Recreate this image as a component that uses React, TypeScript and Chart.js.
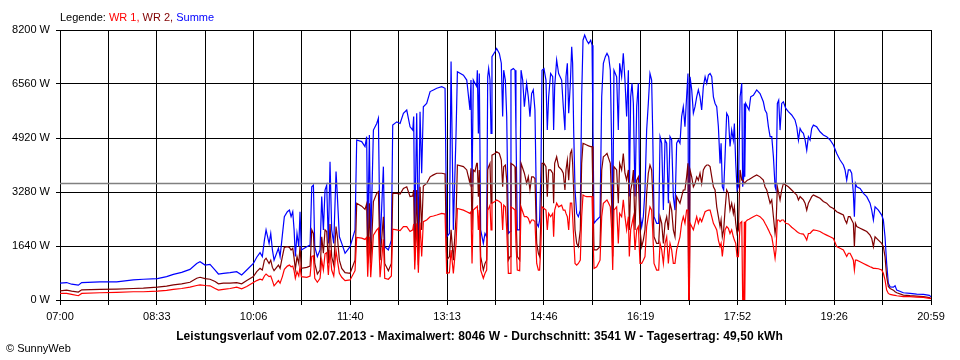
import React, { useEffect, useRef } from "react";
import { Chart, registerables } from "chart.js";

Chart.register(...registerables);

const FONT = "'Liberation Sans', Arial, sans-serif";

// x axis: minutes after 07:00, day ends 20:59
const dayMinutes = 839;
const gridDivisions = 18;
const xTickLabels = ["07:00", "08:33", "10:06", "11:40", "13:13", "14:46", "16:19", "17:52", "19:26", "20:59"];
const yTickValues = [0, 1640, 3280, 4920, 6560, 8200];
const average = 3541;

const times = [
  0, 6.4, 11.2, 17.7, 20.9, 38.5, 54.6, 70.6, 80.3, 93.8,
  102.7, 109.2, 117.2, 125.2, 131.7, 134.9, 139.7, 144.5, 149.4, 152.6,
  157.4,
  163.8, 170.2, 175.0, 179.9, 186.3, 189.5, 192.7, 194.9, 196.9, 198.5,
  201.4, 203.0, 204.6, 206.2, 210.4, 212.0, 214.2, 216.1, 219.0, 221.0,
  222.6, 224.2, 225.5, 226.7, 228.3, 230.0, 231.2, 232.5, 237.7, 240.9,
  242.5, 244.1, 245.4, 247.9, 250.5, 252.1, 253.7, 255.3, 256.9, 258.5,
  260.1, 261.7, 263.7, 265.9, 267.2, 269.1, 271.4, 274.6, 279.4, 284.2,
  285.8, 290.6, 293.8, 295.4, 296.4, 298.0, 299.3, 301.9, 305.1, 306.7,
  308.3, 311.5, 312.8, 316.3, 319.2, 320.5, 324.4, 327.6, 330.8, 334.0,
  337.2, 339.8, 340.7, 341.7, 343.6, 345.2, 346.8, 348.4, 350.0, 353.2,
  356.5, 359.7, 362.9, 367.7, 370.9, 372.5, 375.1, 376.7, 378.9, 381.5,
  382.8, 388.6, 391.8,
  394.9, 395.9, 396.9, 398.1, 399.7, 401.4, 402.0, 403.0, 403.9, 405.2,
  407.8, 409.4, 411.0, 412.0, 412.9, 414.2, 415.2, 416.1, 419.0, 420.6,
  423.2, 425.1, 426.4, 427.4, 429.0, 430.3, 431.9, 433.5, 434.4, 436.7,
  438.3, 439.2, 440.5, 442.8, 444.1, 445.7, 447.3, 449.5, 451.1, 452.7,
  454.3, 455.9, 457.5, 459.2, 460.8, 462.0, 463.3, 464.3, 466.2, 468.1,
  469.4, 470.7, 472.6, 474.6, 475.5, 476.5, 478.4, 480.3, 483.2, 484.8,
  486.4, 487.4, 488.7, 490.0, 491.6, 492.9, 493.8, 494.8, 496.1, 497.7,
  499.3, 501.2, 502.5, 503.8, 505.4, 507.3, 509.2, 511.2, 512.5, 513.4,
  514.4, 517.0, 520.2, 521.8, 523.4, 525.3, 526.9, 528.5, 530.1, 531.4,
  532.4, 533.6, 536.2, 537.8, 539.1, 541.0, 542.6, 544.2, 545.8, 547.5,
  548.4, 549.7, 551.0, 552.3, 553.9, 555.5, 557.1, 558.7, 560.3, 561.9,
  563.5, 565.1, 566.7, 568.3, 569.9, 570.9, 572.2, 574.7, 576.7, 578.0,
  579.6, 581.2, 582.8, 584.4, 586.0, 587.6, 589.2, 590.8, 592.4, 594.0,
  595.6, 597.2, 598.8, 600.4, 602.0, 603.6, 604.9, 605.6, 606.2, 606.9,
  608.5, 610.1, 611.7, 613.3,
  614.9, 616.5, 618.1, 619.7, 621.4, 623.0, 624.6, 626.2, 627.8, 629.4,
  631.0, 632.6, 634.2, 635.8, 636.8, 638.0, 639.3, 640.6, 642.2, 643.8,
  645.4, 647.0, 648.6, 649.6, 650.9, 652.2, 653.5, 655.1, 656.7, 657.6,
  658.6, 659.2, 659.6, 660.5, 662.1, 663.7, 665.3, 667.9, 671.1, 674.3,
  677.5, 679.1, 680.8, 682.4, 684.0, 685.6, 687.2, 688.8, 689.7, 691.0,
  692.3, 693.6, 695.2, 696.8, 699.1, 701.6, 704.8, 708.0, 709.7, 711.3,
  712.9, 714.5, 716.1, 717.7, 719.3, 720.9, 722.5, 724.1, 725.7, 728.9,
  732.1, 735.3, 738.5, 741.8, 745.0, 748.2, 751.4, 754.6, 756.2, 757.8,
  759.4, 761.0, 762.6, 764.2, 765.2, 766.2, 767.5, 770.7, 773.9, 777.1,
  780.3, 781.9, 783.5, 785.1, 788.3, 791.5, 793.1, 794.7, 796.3, 797.9,
  799.6, 802.8, 804.4, 806.0, 812.4, 818.8, 825.2, 831.7, 837.4, 839,
];

const summe = [
  510, 530, 480, 450, 530, 550, 550, 610, 630, 650,
  710, 780, 840, 930, 1110, 1160, 1060, 1080, 910, 790,
  810,
  830, 860, 760, 910, 1110, 1300, 1440, 1320, 1820, 2130,
  1720, 2020, 1520, 1210, 1570, 1320, 1970, 2530, 2680, 2730,
  2530, 2680, 2130, 1320, 2020, 1620, 2680, 1520, 1620, 1670,
  3440, 3490, 1620, 1320, 1520, 3140, 2130, 3340, 3490, 1720,
  4200, 2130, 1720, 3900, 3140, 1920, 1720, 1420, 1620, 2130,
  4860, 4810, 4660, 4960, 1720, 5010, 1720, 5160, 5360, 5520,
  1620, 4050, 1620, 1520, 1820, 5310, 5410, 5360, 5670, 5770,
  5260, 5160, 5570, 2020, 5670, 1620, 5720, 3850, 5870, 5970,
  6330, 6380, 6430, 6480, 6430, 1920, 2020, 7240, 2130, 5060,
  6930, 6830, 6680,
  5770, 6680, 3440, 6680, 6580, 6480, 6980, 5060, 6880, 2130,
  1720, 2020, 1920, 6780, 7030, 6680, 5060, 7390, 7540, 7640,
  7490, 7190, 5570, 6980, 6680, 5570, 2020, 2080, 6980, 7030,
  6980, 5160, 2130, 2130, 6980, 6680, 5870, 6580, 6170, 5570,
  6270, 6380, 5770, 2330, 2230, 2430, 3950, 6980, 7030, 6680,
  5160, 6170, 6880, 6780, 5160, 6480, 7290, 6880, 6680, 5870,
  5160, 6780, 7190, 5670, 6580, 7690, 7190, 5160, 3340, 2630,
  2530, 2730, 6170, 7890, 8046, 7890, 7790, 7890, 7740, 5160,
  2330, 2430, 2530, 6170, 7190, 7390, 7490, 7390, 6980, 4660,
  2130, 6980, 6780, 5160, 7190, 6780, 7490, 6680, 5570, 6980,
  3140, 6170, 6580, 5970, 3140, 5870, 6580, 2630, 2230, 2530,
  3340, 5160, 5970, 6880, 6680, 5160, 2530, 2330, 2330, 4960,
  4760, 2730, 4860, 4760, 2940, 4960, 4860, 3140, 2730, 4760,
  4860, 4760, 5570, 5870, 5260, 6170, 6880, 0, 0, 6780,
  6380, 5670, 5870, 6170,
  6380, 6170, 5770, 6480, 6780, 6580, 6830, 6880, 6780, 6170,
  5970, 5870, 5260, 4150, 4760, 3440, 3340, 4350, 5670, 5570,
  4660, 5160, 4860, 5360, 4150, 3340, 3440, 6170, 6580, 3440,
  3740, 5970, 3740, 5970, 5870, 5770, 6170, 6220, 6380, 6270,
  6020, 5770, 5670, 5260, 4960, 4960, 4350, 3440, 3340, 5970,
  6070, 5160, 5970, 6020, 5820, 5720, 5620, 5470, 5260, 4860,
  5210, 5110, 5060, 4860, 4550, 4960, 4860, 5210, 5310, 5260,
  5110, 5010, 4960, 4860, 4710, 4450, 4250, 4100, 3950, 3640,
  3950, 3950, 3850, 3240, 2530, 3540, 3440, 3390, 3240, 3140,
  2940, 2730, 2430, 2830, 2730, 2580, 2430, 1920, 1110, 510,
  400, 390, 430, 300, 220, 200, 180, 170, 140, 100,
];

const wr2 = [
  280, 300, 270, 240, 310, 320, 330, 350, 360, 390,
  420, 460, 490, 540, 660, 690, 650, 630, 560, 490,
  510,
  510, 530, 490, 590, 710, 860, 960, 910, 1210, 1270,
  1110, 1210, 990, 890, 1060, 960, 1320, 1600, 1620, 1600,
  1520, 1570, 1270, 930, 1320, 1110, 1620, 960, 990, 1030,
  2130, 2020, 1110, 790, 910, 1920, 1420, 2130, 2080, 1110,
  2310, 1320, 1060, 2230, 1920, 1210, 960, 830, 810, 1210,
  2940, 2850, 2750, 2920, 1110, 2940, 1110, 2990, 3240, 3290,
  1210, 2530, 1110, 890, 1110, 3240, 3240, 3220, 3390, 3440,
  3140, 3160, 3340, 1210, 3340, 1060, 3440, 2130, 3460, 3540,
  3740, 3800, 3850, 3850, 3830, 1210, 1320, 2130, 1210, 2530,
  4100, 4050, 3950,
  3540, 4000, 2130, 3950, 3900, 4150, 4150, 3140, 3950, 1320,
  910, 1110, 1210, 3950, 4050, 4150, 2940, 4400, 4450, 4500,
  4450, 4250, 3440, 4050, 4100, 3640, 1210, 1320, 4150, 4100,
  4050, 2630, 1320, 1210, 4150, 4000, 3850, 3540, 3740, 3340,
  3740, 3740, 3690, 1720, 1420, 1320, 2530, 4150, 4150, 4050,
  3140, 3950, 3950, 3850, 2940, 4150, 4350, 4050, 3950, 3850,
  3340, 3950, 4250, 3640, 4450, 4550, 4150, 3340, 2130, 1720,
  1620, 2130, 4150, 4760, 4740, 4710, 4680, 4660, 4660, 3140,
  1520, 1520, 1620, 3950, 4350, 4400, 4450, 4300, 4150, 2940,
  1320, 4050, 3950, 2940, 4150, 3950, 4450, 3850, 3640, 3950,
  2130, 3340, 3540, 3950, 2130, 3640, 3740, 2130, 1620, 1820,
  2130, 3240, 3850, 4100, 3950, 3240, 1920, 1720, 1720, 2530,
  2330, 1720, 2330, 2530, 2130, 2940, 2730, 2130, 1920, 3140,
  3040, 2940, 3140, 3340, 3340, 3740, 4150, 0, 0, 3950,
  3740, 3440, 3540, 3740,
  3640, 3850, 3540, 3950, 4050, 4100, 4100, 4050, 3740, 3440,
  3340, 2830, 2530, 2230, 2430, 1920, 2130, 2730, 3340, 3240,
  2730, 2940, 2630, 2830, 2330, 2020, 2130, 3950, 3640, 3640,
  3590, 3540, 3540, 3590, 3640, 3660, 3690, 3740, 3800, 3740,
  3640, 3440, 3340, 3140, 2940, 3040, 2530, 2020, 2230, 3440,
  3240, 3040, 3340, 3540, 3490, 3440, 3340, 3240, 3190, 3040,
  3140, 3090, 3040, 2940, 2730, 2940, 3040, 3140, 3190, 3140,
  3090, 2990, 2940, 2830, 2780, 2680, 2630, 2580, 2430, 2330,
  2530, 2530, 2430, 2330, 1620, 2330, 2230, 2180, 2130, 2080,
  1970, 1870, 1620, 1920, 1820, 1720, 1620, 1320, 710, 410,
  350, 300, 250, 220, 150, 130, 120, 100, 70, 50,
];

const wr1 = [
  200, 200, 170, 130, 200, 220, 230, 250, 250, 270,
  290, 320, 350, 390, 440, 460, 440, 430, 350, 300,
  320,
  350, 390, 340, 410, 530, 590, 630, 610, 730, 790,
  710, 730, 590, 430, 590, 510, 710, 930, 1030, 1060,
  1010, 1030, 890, 660, 860, 730, 1010, 710, 690, 730,
  1320, 1340, 660, 540, 660, 1210, 910, 1400, 1440, 760,
  1520, 910, 730, 1500, 1210, 810, 690, 590, 610, 890,
  1900, 1880, 1840, 1900, 710, 1920, 690, 1970, 2130, 2180,
  690, 1840, 660, 630, 730, 2150, 2130, 2110, 2230, 2230,
  2080, 2130, 2310, 930, 2330, 830, 2350, 1320, 2380, 2430,
  2530, 2550, 2580, 2630, 2610, 810, 830, 1520, 810, 1720,
  2780, 2730, 2680,
  2630, 2680, 1110, 2730, 2780, 2830, 2850, 2130, 2730, 910,
  660, 810, 910, 2730, 2780, 2880, 2130, 2940, 2990, 3040,
  2990, 2940, 2130, 2880, 2830, 2130, 810, 810, 2830, 2780,
  2730, 1720, 910, 890, 2830, 2680, 2530, 2530, 2480, 2330,
  2430, 2430, 2380, 1110, 910, 910, 1720, 2830, 2780, 2730,
  2130, 2630, 2530, 2630, 1920, 2730, 2940, 2830, 2880, 2730,
  2730, 2630, 2530, 2130, 2940, 2940, 2530, 1920, 1110, 1060,
  1110, 1210, 2530, 3190, 3160, 3140, 3140, 3140, 3140, 1920,
  960, 1010, 1210, 2530, 2940, 2990, 3040, 2940, 2830, 2130,
  910, 2730, 2830, 1720, 2630, 2530, 3040, 2530, 2130, 2530,
  1320, 2130, 2330, 2530, 1520, 2130, 2230, 1110, 1110, 1210,
  1320, 2230, 2530, 2830, 2730, 2130, 1110, 910, 910, 1720,
  1520, 1110, 1720, 1920, 1110, 1720, 1520, 1110, 1110, 1520,
  1720, 1920, 2330, 2530, 2330, 2730, 2730, 0, 0, 2330,
  2230, 2130, 2330, 2530,
  2330, 2480, 2380, 2530, 2680, 2710, 2730, 2730, 2530, 2330,
  2230, 2130, 1820, 1620, 1720, 1320, 1720, 2130, 2230, 2180,
  2020, 2130, 1920, 1820, 1720, 1320, 1320, 2330, 2380, 0,
  0, 2380, 0, 2380, 2430, 2450, 2480, 2530, 2580, 2530,
  2430, 2330, 2230, 2130, 2020, 1920, 1620, 1270, 1520, 2430,
  2430, 2380, 2430, 2430, 2330, 2310, 2210, 2130, 2080, 2040,
  2020, 2010, 2000, 1920, 1820, 2020, 2020, 2080, 2130, 2110,
  2080, 2020, 1970, 1920, 1870, 1620, 1570, 1520, 1420, 1320,
  1420, 1420, 1320, 1210, 910, 1210, 1210, 1160, 1110, 1060,
  1010, 990, 960, 960, 950, 910, 810, 610, 300, 200,
  170, 150, 140, 130, 100, 100, 90, 80, 50, 40,
];

const toPoints = (values: number[]) => times.map((t, i) => ({ x: t, y: values[i] }));

export default function App() {
  const canvasRef = useRef<HTMLCanvasElement | null>(null);

  useEffect(() => {
    const canvas = canvasRef.current;
    if (!canvas) return;
    const chart = new Chart(canvas, {
      type: "line",
      data: {
        datasets: [
          {
            label: "Durchschnitt",
            data: [{ x: 0, y: average }, { x: dayMinutes, y: average }],
            borderColor: "#808080",
            borderWidth: 1.5,
          },
          { label: "WR 1", data: toPoints(wr1), borderColor: "#ff0000", borderWidth: 1.2 },
          { label: "WR 2", data: toPoints(wr2), borderColor: "#800000", borderWidth: 1.2 },
          { label: "Summe", data: toPoints(summe), borderColor: "#0000ff", borderWidth: 1.2 },
        ],
      },
      options: {
        responsive: false,
        animation: false,
        events: [],
        elements: { point: { radius: 0 }, line: { tension: 0 } },
        layout: { padding: { left: 0, top: 30, right: 29, bottom: 30 } },
        plugins: { legend: { display: false }, tooltip: { enabled: false }, title: { display: false } },
        scales: {
          x: {
            type: "linear",
            min: 0,
            max: dayMinutes,
            afterBuildTicks: (s: any) => {
              s.ticks = Array.from({ length: gridDivisions + 1 }, (_, i) => ({ value: (i * dayMinutes) / gridDivisions }));
            },
            afterFit: (s: any) => {
              s.height = 30;
            },
            grid: { color: "#000", lineWidth: 1, tickLength: 5 },
            border: { color: "#000", width: 1 },
            ticks: {
              autoSkip: false,
              maxRotation: 0,
              color: "#000",
              padding: 5,
              font: { family: FONT, size: 11 },
              callback: (_v: any, i: number) => (i % 2 === 0 ? xTickLabels[i / 2] : ""),
            },
          },
          y: {
            min: 0,
            max: 8200,
            afterBuildTicks: (s: any) => {
              s.ticks = yTickValues.map((v) => ({ value: v }));
            },
            afterFit: (s: any) => {
              s.width = 60;
            },
            grid: { color: "#000", lineWidth: 1, tickLength: 4 },
            border: { color: "#000", width: 1 },
            ticks: {
              color: "#000",
              padding: 6,
              font: { family: FONT, size: 11 },
              callback: (v: any) => `${v} W`,
            },
          },
        },
      },
    });
    return () => chart.destroy();
  }, []);

  const textBase: React.CSSProperties = {
    position: "absolute",
    fontFamily: FONT,
    fontSize: 11,
    lineHeight: "13px",
    whiteSpace: "pre",
    color: "#000",
  };

  return (
    <div style={{ position: "fixed", left: 0, top: 0, width: 960, height: 360, background: "#fff", overflow: "hidden" }}>
      <canvas ref={canvasRef} width={960} height={360} style={{ display: "block", width: 960, height: 360 }} />
      <div style={{ ...textBase, left: 60, top: 11 }}>
        <span>Legende: </span>
        <span style={{ color: "#ff0000" }}>WR 1, </span>
        <span style={{ color: "#800000" }}>WR 2, </span>
        <span style={{ color: "#0000ff" }}>Summe</span>
      </div>
      <div style={{ ...textBase, left: 0, width: 959, top: 330, fontSize: 12, textAlign: "center", fontWeight: "bold", letterSpacing: "0.1px" }}>
        Leistungsverlauf vom 02.07.2013 - Maximalwert: 8046 W - Durchschnitt: 3541 W - Tagesertrag: 49,50 kWh
      </div>
      <div style={{ ...textBase, left: 6, top: 342 }}>© SunnyWeb</div>
    </div>
  );
}
